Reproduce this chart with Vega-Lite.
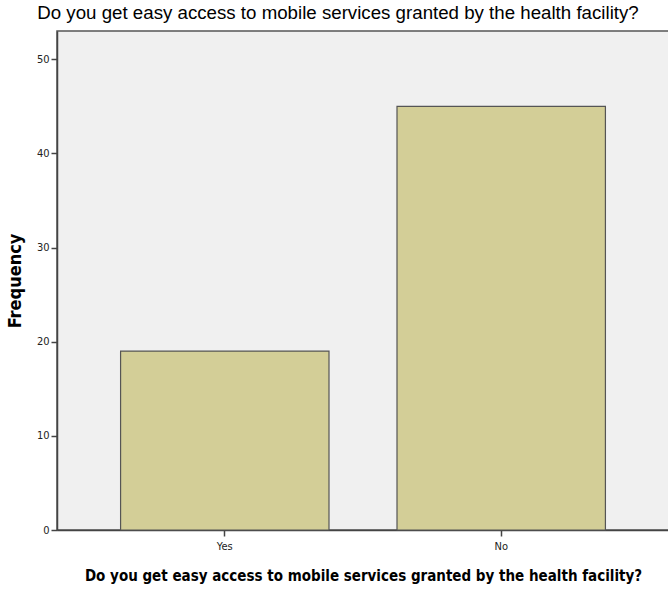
{
  "$schema": "https://vega.github.io/schema/vega-lite/v6.json",
  "width": 612,
  "height": 499,
  "autosize": {"type": "none"},
  "padding": {"left": 57, "top": 31, "right": 0, "bottom": 60},
  "background": "white",
  "title": {
    "text": "Do you get easy access to mobile services granted by the health facility?",
    "font": "Liberation Sans",
    "fontSize": 18.7,
    "fontWeight": "normal",
    "color": "black",
    "anchor": "middle",
    "dx": -25,
    "offset": 8
  },
  "data": {
    "values": [
      {"answer": "Yes", "frequency": 19},
      {"answer": "No", "frequency": 45}
    ]
  },
  "mark": {"type": "bar", "fill": "#D3CE97", "stroke": "#555555", "strokeWidth": 1.2},
  "encoding": {
    "x": {
      "field": "answer",
      "type": "nominal",
      "sort": ["Yes", "No"],
      "scale": {"paddingInner": 0.246, "paddingOuter": 0.23},
      "axis": {
        "title": "Do you get easy access to mobile services granted by the health facility?",
        "titleFont": "DejaVu Sans Condensed",
        "titleFontSize": 15,
        "titleFontWeight": "bold",
        "titleColor": "black",
        "titleAnchor": "middle",
        "titleX": 306,
        "titlePadding": 17,
        "labelAngle": 0,
        "labelFont": "DejaVu Sans Condensed",
        "labelFontSize": 11,
        "labelColor": "#222",
        "labelPadding": 4,
        "tickSize": 6,
        "tickColor": "#444",
        "tickWidth": 1.5,
        "domainColor": "#444",
        "domainWidth": 1.5
      }
    },
    "y": {
      "field": "frequency",
      "type": "quantitative",
      "scale": {"domain": [0, 53], "nice": false},
      "axis": {
        "title": "Frequency",
        "titleFont": "DejaVu Sans Condensed",
        "titleFontSize": 18,
        "titleFontWeight": "bold",
        "titleColor": "black",
        "titlePadding": 12,
        "values": [0, 10, 20, 30, 40, 50],
        "grid": false,
        "labelFont": "DejaVu Sans Condensed",
        "labelFontSize": 11,
        "labelColor": "#222",
        "labelPadding": 2,
        "tickSize": 6,
        "tickColor": "#444",
        "tickWidth": 1.5,
        "domainColor": "#444",
        "domainWidth": 1.5
      }
    }
  },
  "config": {
    "view": {"fill": "#F0F0F0", "stroke": "#555555", "strokeWidth": 1.5}
  }
}
